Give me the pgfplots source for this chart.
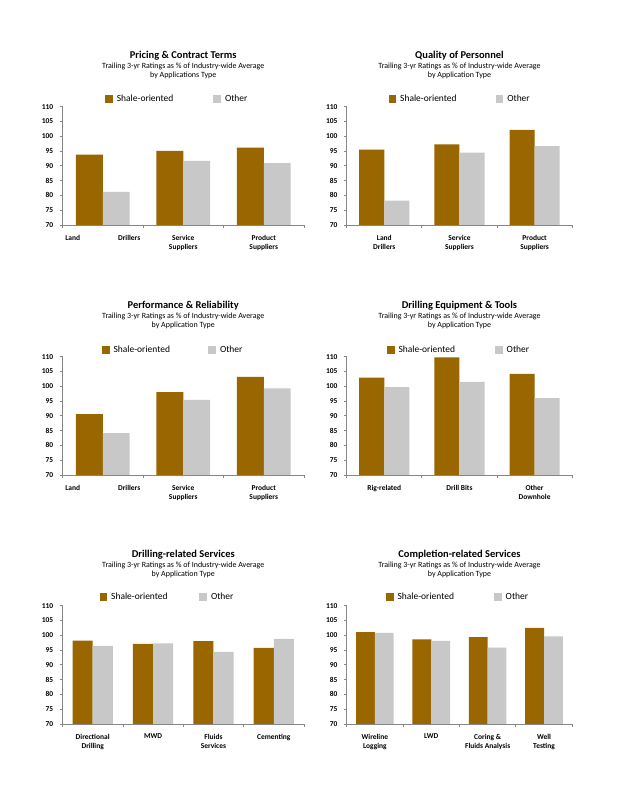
\documentclass[border=0pt]{standalone}
\usepackage{fontspec}
\setmainfont{Carlito}
\usepackage{pgfplots}
\pgfplotsset{compat=1.18}
\definecolor{shale}{RGB}{153,102,0}
\definecolor{other}{RGB}{200,200,200}
\definecolor{axgray}{RGB}{134,134,134}
\newcommand{\tfont}{\bfseries\fontsize{10.5}{12}\selectfont}
\newcommand{\sfont}{\fontsize{8}{9.4}\selectfont}
\newcommand{\lfont}{\fontsize{9.5}{11}\selectfont}
\newcommand{\kfont}{\bfseries\fontsize{7.5}{9}\selectfont}
\pgfplotsset{
  panel/.style={
    scale only axis, height=118.3bp,
    ymin=70, ymax=110, ytick={70,75,...,110},
    axis x line*=bottom, axis y line*=left,
    axis line style={draw=axgray, line width=0.75bp},
    every tick/.style={draw=axgray, line width=0.75bp},
    tick align=outside, major tick length=2.8bp,
    x tick label as interval,
    xticklabel style={font=\kfont, align=center, yshift=-3.5bp},
    yticklabel style={font=\kfont, xshift=-3bp},
    /pgf/number format/assume math mode=true,
    ybar, bar width=0.33333,
    clip mode=individual, axis on top,
    legend columns=2,
    legend style={at={(0,1)}, anchor=west, draw=none, fill=none, inner sep=0pt,
      font=\lfont, nodes={inner xsep=0pt},
      /tikz/every odd column/.append style={column sep=4bp}},
  },
  sh/.style={fill=shale, draw=none, bar shift=-0.166667,
    legend image code/.code={\fill[shale] (0bp,-3.85bp) rectangle (7.7bp,3.85bp);}},
  ot/.style={fill=other, draw=none, bar shift=0.166667,
    legend image code/.code={\fill[other] (0bp,-3.85bp) rectangle (7.7bp,3.85bp);}},
}
\newcommand{\heads}[2]{%
  \node[anchor=base, font=\tfont, yshift=48.4bp] at (rel axis cs:0.5,1) {#1};
  \node[anchor=base, font=\sfont, yshift=38.4bp] at (rel axis cs:0.5,1) {Trailing 3-yr Ratings as \% of Industry-wide Average};
  \node[anchor=base, font=\sfont, yshift=29bp] at (rel axis cs:0.5,1) {#2};
}
\begin{document}
\begin{tikzpicture}
\path[use as bounding box, fill=white] (0,0) rectangle (618bp,800bp);
% Panel 1
\begin{axis}[panel, width=241.5bp, at={(62.5bp,575bp)},
  xmin=-0.5, xmax=2.5, xtick={-0.5,0.5,1.5,2.5},
  xticklabels={\makebox[75bp]{Land\hfill Drillers}, Service\\Suppliers, Product\\Suppliers},
  legend style={xshift=42.5bp, yshift=7.9bp, /tikz/every even column/.append style={column sep=40bp}}]
\addplot[sh] coordinates {(0,93.8) (1,95.1) (2,96.2)};
\addplot[ot] coordinates {(0,81.2) (1,91.7) (2,90.9)};
\legend{Shale-oriented, Other}
\heads{Pricing \& Contract Terms}{by Applications Type}
\end{axis}
% Panel 2
\begin{axis}[panel, width=225.5bp, at={(346.7bp,575bp)},
  xmin=-0.5, xmax=2.5, xtick={-0.5,0.5,1.5,2.5},
  xticklabels={Land\\Drillers, Service\\Suppliers, Product\\Suppliers},
  legend style={xshift=41.6bp, yshift=7.9bp, /tikz/every even column/.append style={column sep=39bp}}]
\addplot[sh] coordinates {(0,95.5) (1,97.3) (2,102.2)};
\addplot[ot] coordinates {(0,78.2) (1,94.5) (2,96.7)};
\legend{Shale-oriented, Other}
\heads{Quality of Personnel}{by Application Type}
\end{axis}
% Panel 3
\begin{axis}[panel, width=241.5bp, at={(62.5bp,325bp)},
  xmin=-0.5, xmax=2.5, xtick={-0.5,0.5,1.5,2.5},
  xticklabels={\makebox[75bp]{Land\hfill Drillers}, Service\\Suppliers, Product\\Suppliers},
  legend style={xshift=39.2bp, yshift=7bp, /tikz/every even column/.append style={column sep=38.3bp}}]
\addplot[sh] coordinates {(0,90.6) (1,98.0) (2,103.2)};
\addplot[ot] coordinates {(0,84.2) (1,95.4) (2,99.3)};
\legend{Shale-oriented, Other}
\heads{Performance \& Reliability}{by Application Type}
\end{axis}
% Panel 4
\begin{axis}[panel, width=225.5bp, at={(346.7bp,325bp)},
  xmin=-0.5, xmax=2.5, xtick={-0.5,0.5,1.5,2.5},
  xticklabels={Rig-related, Drill Bits, Other\\Downhole},
  legend style={xshift=40bp, yshift=6.4bp, /tikz/every even column/.append style={column sep=40bp}}]
\addplot[sh] coordinates {(0,102.9) (1,109.8) (2,104.2)};
\addplot[ot] coordinates {(0,99.7) (1,101.5) (2,96.0)};
\legend{Shale-oriented, Other}
\heads{Drilling Equipment \& Tools}{by Application Type}
\end{axis}
% Panel 5
\begin{axis}[panel, width=241.5bp, at={(62.5bp,76bp)},
  xmin=-0.5, xmax=3.5, xtick={-0.5,0.5,1.5,2.5,3.5},
  xticklabels={Directional\\Drilling, MWD, Fluids\\Services, Cementing},
  legend style={xshift=36.8bp, yshift=8.7bp, /tikz/every even column/.append style={column sep=31.7bp}}]
\addplot[sh] coordinates {(0,98.2) (1,97.1) (2,98.0) (3,95.7)};
\addplot[ot] coordinates {(0,96.4) (1,97.3) (2,94.4) (3,98.8)};
\legend{Shale-oriented, Other}
\heads{Drilling-related Services}{by Application Type}
\end{axis}
% Panel 6
\begin{axis}[panel, width=225.5bp, at={(346.7bp,76bp)},
  xmin=-0.5, xmax=3.5, xtick={-0.5,0.5,1.5,2.5,3.5},
  xticklabels={Wireline\\Logging, LWD, Coring \&\\Fluids Analysis, Well\\Testing},
  legend style={xshift=39bp, yshift=8.7bp, /tikz/every even column/.append style={column sep=40bp}}]
\addplot[sh] coordinates {(0,101.1) (1,98.6) (2,99.4) (3,102.5)};
\addplot[ot] coordinates {(0,100.8) (1,98.1) (2,95.8) (3,99.6)};
\legend{Shale-oriented, Other}
\heads{Completion-related Services}{by Application Type}
\end{axis}
\end{tikzpicture}
\end{document}
